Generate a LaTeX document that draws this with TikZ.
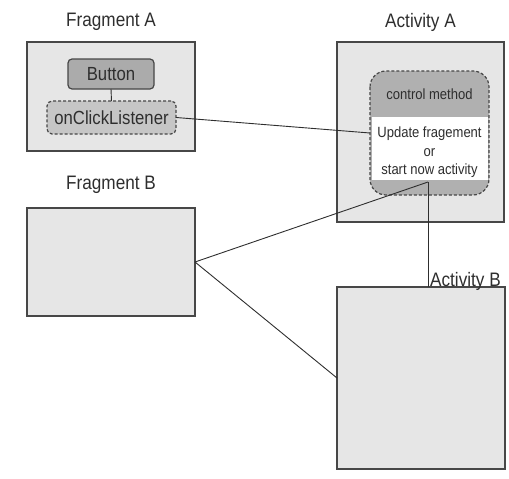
\documentclass[tikz,border=0pt]{standalone}
\usepackage{fontspec}
\setmainfont{Liberation Sans}[FakeStretch=0.88]
\definecolor{edge}{HTML}{474747}
\definecolor{ink}{HTML}{2E2E2E}
\definecolor{panelfill}{HTML}{E6E6E6}
\definecolor{btnfill}{HTML}{ABABAB}
\definecolor{lsnfill}{HTML}{C6C6C6}
\definecolor{ctrlfill}{HTML}{B0B0B0}
\begin{document}
\begin{tikzpicture}[x=1pt,y=-1pt,
  panel/.style={draw=edge, line width=1.3pt, fill=panelfill, inner sep=0pt, outer sep=0pt},
  title/.style={text=ink, font=\fontsize{19.5}{22}\selectfont},
  btnbox/.style={draw=edge, line width=1.2pt, fill=btnfill, rounded corners=4pt,
    inner sep=0pt, outer sep=0pt, text=ink, font=\fontsize{19}{22}\selectfont},
  lsnbox/.style={draw=edge, line width=1.2pt, dash pattern=on 3pt off 2pt,
    fill=lsnfill, rounded corners=5pt, inner sep=0pt, outer sep=0pt, text=ink,
    font=\fontsize{19}{22}\selectfont},
  small/.style={text=ink, font=\fontsize{14.8}{18.5}\selectfont, align=center, inner sep=0pt},
  link/.style={draw=ink, line width=0.9pt}]
\useasboundingbox (0,0) rectangle (509,479);

% Fragment A with its button and listener
\node[title] (fragAlbl) at (111,22) {Fragment A};
\node[panel, minimum width=168pt, minimum height=109pt] (fragA) at (111,96.5) {};
\node[btnbox, minimum width=86pt, minimum height=30pt] (btn) at (111,74) {Button};
\node[lsnbox, minimum width=129pt, minimum height=33pt] (lsn) at (111.5,117.5) {onClickListener};
\draw[link] (btn.south) -- (lsn.north);

% Activity A with the control method
\node[title] (actAlbl) at (420.5,22) {Activity A};
\node[panel, minimum width=167pt, minimum height=180pt] (actA) at (420.5,132) {};
\node[fill=ctrlfill, rounded corners=16pt, minimum width=119pt, minimum height=124pt,
  inner sep=0pt, outer sep=0pt] (ctrl) at (429.5,133) {};
\fill[white] (371.5,117) rectangle (487.5,180);
\draw[draw=edge, line width=1.2pt, dash pattern=on 3pt off 2pt, rounded corners=16pt]
  (ctrl.north west) rectangle (ctrl.south east);
\node[small] (ctrlhead) at (429.5,94) {control method};
\node[small] (ctrlbody) at (429.5,152.5) {Update fragement\\or\\start now activity};

% Fragment B
\node[title] (fragBlbl) at (111,185) {Fragment B};
\node[panel, minimum width=168pt, minimum height=108pt] (fragB) at (111,262) {};

% Activity B
\node[panel, minimum width=168pt, minimum height=182pt] (actB) at (421,378) {};
\coordinate (hub) at (428,182);
\node[title, anchor=south west, inner sep=0pt] (actBlbl) at ([xshift=2pt,yshift=-4pt]hub |- actB.north) {Activity B};

% Connectors
\draw[link] (lsn.east) -- (ctrl.west);
\draw[link] (fragB.east) -- (hub);
\draw[link] (hub) -- (hub |- actB.north);
\draw[link] (fragB.east) -- (actB.west);
\end{tikzpicture}
\end{document}
